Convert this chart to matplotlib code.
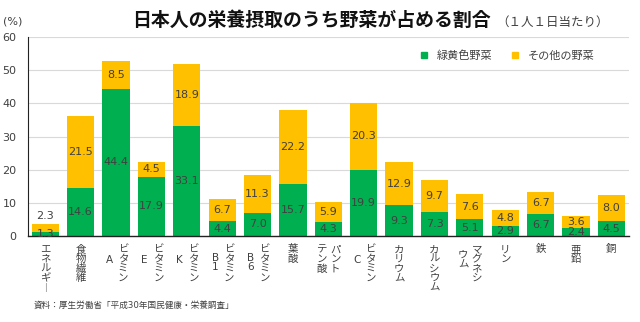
import numpy as np
import matplotlib.pyplot as plt
from matplotlib.lines import Line2D

plt.rcParams['font.family'] = ['DejaVu Sans', 'Noto Sans CJK JP']

# データ（%）
# 縦書きラベル: (右の列, 左の列)
labels = [
    ("エネルギ︱", ""),
    ("食物繊維", ""),
    ("ビタミン", "A"),
    ("ビタミン", "E"),
    ("ビタミン", "K"),
    ("ビタミン", "B1"),
    ("ビタミン", "B6"),
    ("葉酸", ""),
    ("パント", "テン酸"),
    ("ビタミン", "C"),
    ("カリウム", ""),
    ("カルシウム", ""),
    ("マグネシ", "ウム"),
    ("リン", ""),
    ("鉄", ""),
    ("亜鉛", ""),
    ("銅", ""),
]
ryokuou = [1.3, 14.6, 44.4, 17.9, 33.1, 4.4, 7.0, 15.7, 4.3, 19.9, 9.3, 7.3, 5.1, 2.9, 6.7, 2.4, 4.5]
sonota = [2.3, 21.5, 8.5, 4.5, 18.9, 6.7, 11.3, 22.2, 5.9, 20.3, 12.9, 9.7, 7.6, 4.8, 6.7, 3.6, 8.0]

green = '#00B050'
yellow = '#FFC000'
txt = '#404040'

fig = plt.figure(figsize=(6.4, 3.22), dpi=100)
ax = fig.add_axes([0.043, 0.267, 0.940, 0.618])

x = np.arange(len(labels))
ax.bar(x, ryokuou, width=0.77, color=green, zorder=2)
ax.bar(x, sonota, width=0.77, bottom=ryokuou, color=yellow, zorder=2)

# 値ラベル
for i in range(len(x)):
    g = ryokuou[i]
    s = sonota[i]
    ax.text(i, g / 2, f"{g:.1f}", ha='center', va='center', fontsize=8, color=txt, zorder=3)
    if s < 3:
        ax.text(i, g + s + 1.0, f"{s:.1f}", ha='center', va='bottom', fontsize=8, color=txt, zorder=3)
    else:
        ax.text(i, g + s / 2, f"{s:.1f}", ha='center', va='center', fontsize=8, color=txt, zorder=3)

ax.set_xlim(-0.5, len(labels) - 0.5)
ax.set_ylim(0, 60)
ax.set_yticks(range(0, 61, 10))
ax.tick_params(axis='y', length=0, labelsize=8, labelcolor=txt, pad=8)
ax.tick_params(axis='x', length=0, labelbottom=False)
ax.grid(axis='y', color='#D9D9D9', linewidth=0.8, zorder=0)
for sp in ['top', 'right']:
    ax.spines[sp].set_visible(False)
ax.spines['left'].set_color('#222222')
ax.spines['left'].set_linewidth(0.8)
ax.spines['bottom'].set_color('#222222')
ax.spines['bottom'].set_linewidth(1.0)

# 縦書きの項目名
for i, (right, left) in enumerate(labels):
    dx = 5 if left else 0
    ax.annotate("\n".join(right), xy=(i, 0), xycoords=('data', 'axes fraction'),
                xytext=(dx, -6), textcoords='offset points', ha='center', va='top',
                fontsize=7.5, color=txt, linespacing=0.95)
    if left:
        if left.isascii():
            dy = -14 if len(left) == 1 else -12
        elif left == "ウム":
            dy = -10
        else:
            dy = -6
        ax.annotate("\n".join(left), xy=(i, 0), xycoords=('data', 'axes fraction'),
                    xytext=(-5, dy), textcoords='offset points', ha='center', va='top',
                    fontsize=7.5, color=txt, linespacing=0.95)

# 凡例
handles = [Line2D([], [], marker='s', linestyle='', color=green, markersize=5),
           Line2D([], [], marker='s', linestyle='', color=yellow, markersize=5)]
ax.legend(handles, ['緑黄色野菜', 'その他の野菜'], ncol=2, loc='upper center',
          bbox_to_anchor=(0.796, 0.985), frameon=False, fontsize=8, labelcolor=txt,
          handletextpad=0.6, columnspacing=1.6, handlelength=1.0)

# タイトル等
fig.text(0.206, 0.937, '日本人の栄養摂取のうち野菜が占める割合', fontsize=13.6,
         fontweight='bold', color='#111111', va='center', ha='left')
fig.text(0.775, 0.93, '（１人１日当たり）', fontsize=9, color=txt, va='center', ha='left')
fig.text(0.005, 0.932, '(%)', fontsize=8, color=txt, va='center', ha='left')
fig.text(0.052, 0.053, '資料：厚生労働省「平成30年国民健康・栄養調査」', fontsize=6.2,
         color=txt, va='center', ha='left')

fig.savefig('out.png', dpi=100, facecolor='white')
